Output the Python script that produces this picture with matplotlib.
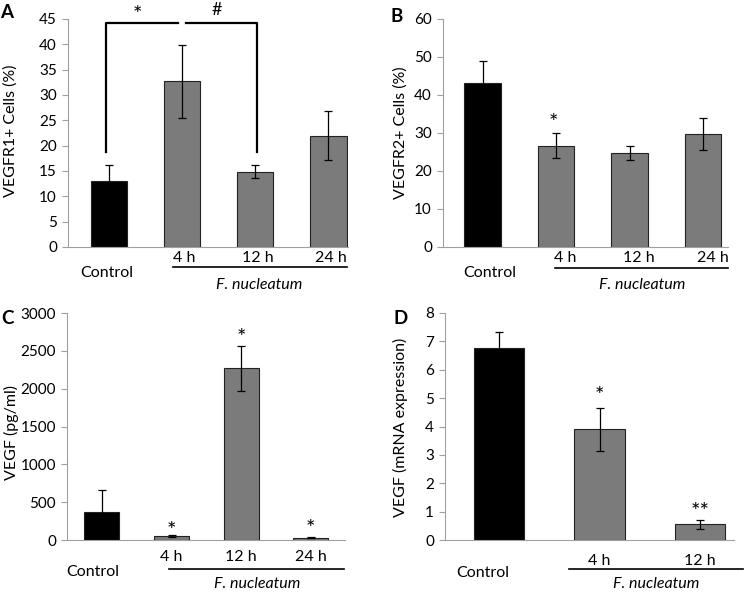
import numpy as np
import matplotlib
matplotlib.use("Agg")
import matplotlib.pyplot as plt
import matplotlib.transforms as mtrans

plt.rcParams['font.family'] = ['Lato', 'DejaVu Sans']
plt.rcParams['font.size'] = 11.5

# data
labels_4 = ["Control", "4 h", "12 h", "24 h"]
labels_3 = ["Control", "4 h", "12 h"]

vegfr1 = [13.0, 32.7, 14.9, 22.0]
vegfr1_err = [3.1, 7.2, 1.3, 4.8]

vegfr2 = [43.2, 26.7, 24.8, 29.8]
vegfr2_err = [5.7, 3.2, 1.9, 4.2]
vegfr2_stars = ["", "*", "", ""]
vegfr2_star_y = [0, 33.9, 0, 0]

vegf_pg = [365, 50, 2270, 30]
vegf_pg_err = [295, 10, 295, 6]
vegf_pg_stars = ["", "*", "*", "*"]
vegf_pg_star_y = [0, 185, 2736, 211]

vegf_mrna = [6.75, 3.9, 0.55]
vegf_mrna_err = [0.57, 0.75, 0.15]
vegf_mrna_stars = ["", "*", "**"]
vegf_mrna_star_y = [0, 5.25, 1.16]

GRAY = "#7b7b7b"
SPINE = "#a0a0a0"
FS = 11.5
TICK_FS = 11

fig = plt.figure(figsize=(7.5, 5.92), dpi=100)
W, H = 750.0, 592.0


def add_axes(l, r, t, b):
    return fig.add_axes([l / W, 1 - b / H, (r - l) / W, (b - t) / H])


def bars(ax, vals, errs, ylim, yticks, xlim):
    x = np.arange(len(vals))
    colors = ["black"] + [GRAY] * (len(vals) - 1)
    ax.bar(x, vals, width=0.5, color=colors, edgecolor="#222222", linewidth=0.8, zorder=2)
    ax.errorbar(x, vals, yerr=errs, fmt="none", ecolor="black", elinewidth=0.9,
                capsize=3, capthick=0.9, zorder=3)
    ax.set_xlim(*xlim)
    ax.set_ylim(*ylim)
    ax.set_yticks(yticks)
    ax.set_xticks([])
    for s in ["top", "right"]:
        ax.spines[s].set_visible(False)
    for s in ["left", "bottom"]:
        ax.spines[s].set_color(SPINE)
    ax.tick_params(axis="y", direction="out", length=4, color=SPINE, labelsize=TICK_FS, pad=4)
    return x


def xlabels(ax, labels, hour_dy, ctrl_dy, shift, ctrl_shift):
    trans = ax.get_xaxis_transform()
    t_ctrl = mtrans.offset_copy(trans, fig=fig, x=0, y=-ctrl_dy, units="dots")
    t_hour = mtrans.offset_copy(trans, fig=fig, x=0, y=-hour_dy, units="dots")
    ax.text(ctrl_shift, 0, labels[0], ha="center", va="center", fontsize=FS, transform=t_ctrl)
    for i, lab in enumerate(labels[1:], start=1):
        ax.text(i + shift, 0, lab, ha="center", va="center", fontsize=FS, transform=t_hour)


def group_line(ax, x0, x1, dy, name_dy):
    # line under the hour labels plus the species name
    trans = ax.get_xaxis_transform()
    off = mtrans.offset_copy(trans, fig=fig, x=0, y=-dy, units="dots")
    ax.plot([x0, x1], [0, 0], color="black", lw=1.2, transform=off, clip_on=False)
    off2 = mtrans.offset_copy(trans, fig=fig, x=0, y=-name_dy, units="dots")
    ax.text((x0 + x1) / 2, 0, "F. nucleatum", style="italic", fontsize=FS,
            ha="center", va="center", transform=off2)


def star(ax, x, y, s):
    # y is where the glyph centre should sit
    ax.annotate(s, xy=(x, y), xytext=(0, -5), textcoords="offset pixels",
                fontsize=16, ha="center", va="center", annotation_clip=False)


def ylabel(px, py, text):
    fig.text(px / W, 1 - py / H, text, rotation=90, fontsize=FS, ha="center", va="center")


# Panel A
axA = add_axes(68, 348, 19, 247)
bars(axA, vegfr1, vegfr1_err, (0, 45), range(0, 46, 5), (-0.56, 3.27))
xlabels(axA, labels_4, 11, 26, 0.03, -0.03)
group_line(axA, 0.87, 3.25, 20, 38)
axA.plot([-0.04, -0.04, 0.95], [18.75, 44.2, 44.2], color="black", lw=1.6, clip_on=False)
axA.plot([1.05, 2.03, 2.03], [44.2, 44.2, 18.75], color="black", lw=1.6, clip_on=False)
star(axA, 0.39, 46.8, "*")
axA.text(1.48, 46.8, "#", fontsize=13, ha="center", va="center")
ylabel(11, 131, "VEGFR1+ Cells (%)")

# Panel B
axB = add_axes(443, 728, 19, 247)
bars(axB, vegfr2, vegfr2_err, (0, 60), range(0, 61, 10), (-0.54, 3.34))
xlabels(axB, labels_4, 11, 26, 0.13, 0.09)
group_line(axB, 0.99, 3.34, 21, 38)
for i, (s, y) in enumerate(zip(vegfr2_stars, vegfr2_star_y)):
    if s:
        star(axB, i - 0.04, y, s)
ylabel(401, 133, "VEGFR2+ Cells (%)")

# Panel C
axC = add_axes(67, 345, 313, 540)
bars(axC, vegf_pg, vegf_pg_err, (0, 3000), range(0, 3001, 500), (-0.5, 3.49))
xlabels(axC, labels_4, 17, 32, 0.0, -0.13)
group_line(axC, 0.97, 3.48, 29, 44)
for i, (s, y) in enumerate(zip(vegf_pg_stars, vegf_pg_star_y)):
    if s:
        star(axC, i, y, s)
ylabel(11, 432, "VEGF (pg/ml)")

# Panel D
axD = add_axes(445, 734, 313, 540)
bars(axD, vegf_mrna, vegf_mrna_err, (0, 8), range(0, 9), (-0.54, 2.34))
xlabels(axD, labels_3, 21, 33, 0.0, -0.16)
group_line(axD, 0.7, 2.43, 29, 44)
for i, (s, y) in enumerate(zip(vegf_mrna_stars, vegf_mrna_star_y)):
    if s:
        star(axD, i, y, s)
ylabel(400, 427, "VEGF (mRNA expression)")

# panel letters
for lab, px, py in [("A", 7, 12), ("B", 397, 16), ("C", 7, 318), ("D", 401, 318)]:
    fig.text(px / W, 1 - py / H, lab, fontsize=13.5, fontweight="bold", ha="center", va="center")

fig.savefig("out.png", dpi=100)
